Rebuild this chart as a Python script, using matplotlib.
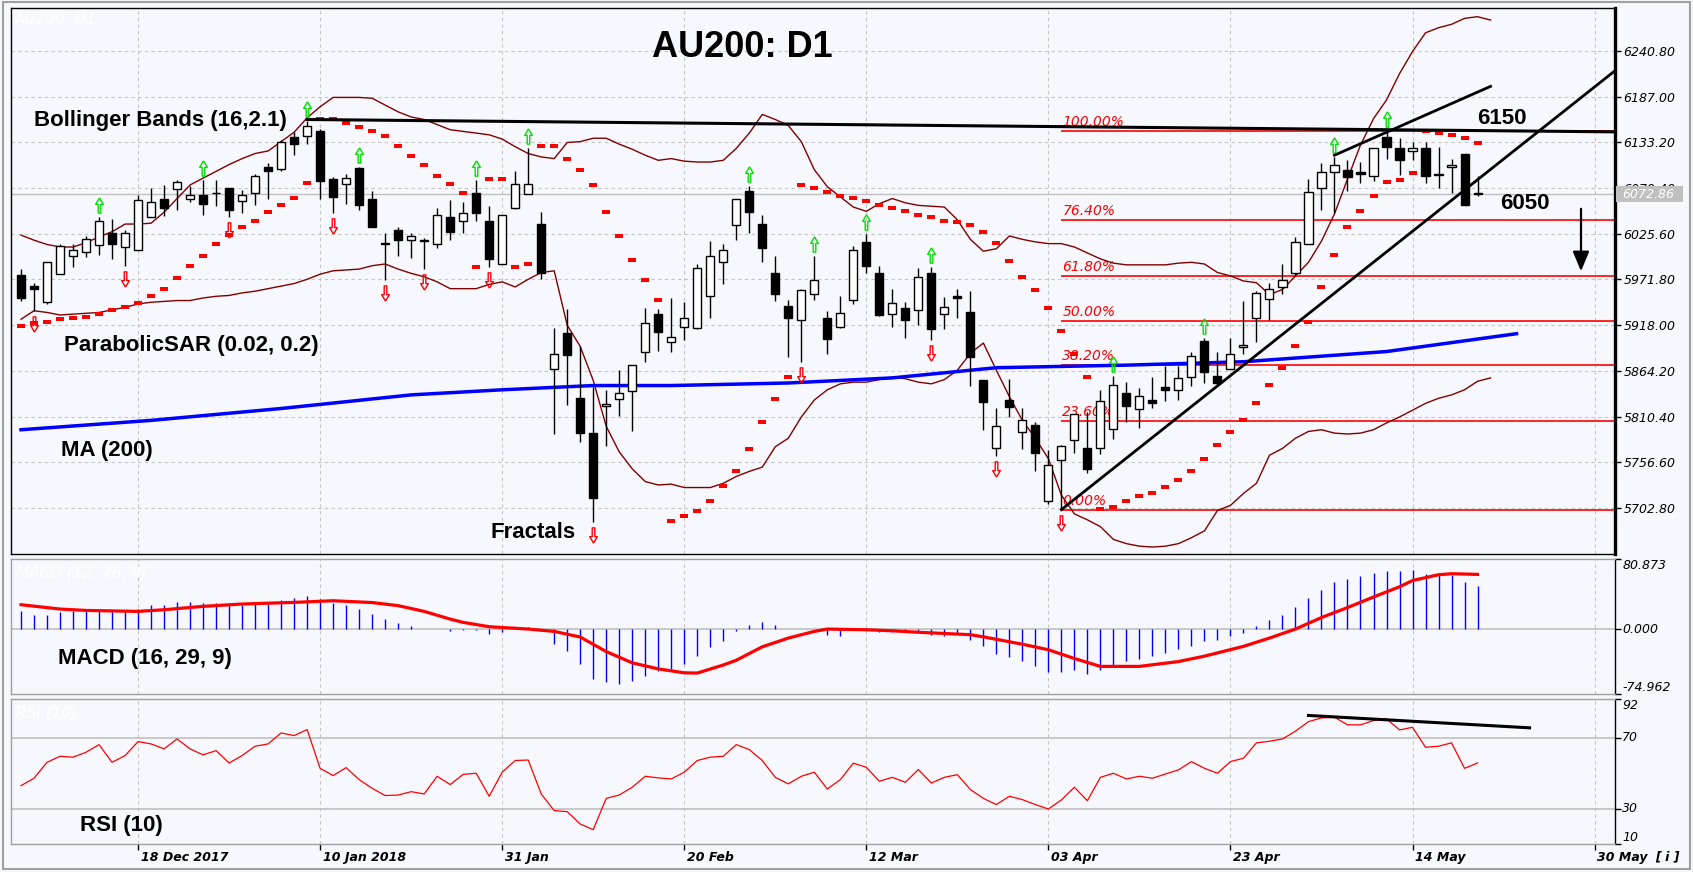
import matplotlib
matplotlib.use("Agg")
import matplotlib.pyplot as plt
import numpy as np
from matplotlib.transforms import offset_copy
from matplotlib.patches import Rectangle, FancyArrowPatch

W, H = 1693, 872
BG = "#f7f8fd"

# ---- candles (AU200 daily) ----
opens = [5977, 5964, 5945, 5978, 5999, 6004, 6012, 6026, 6010, 6006,
         6045, 6067, 6078, 6067, 6071, 6073, 6079, 6064, 6073, 6104,
         6102, 6139, 6141, 6147, 6090, 6084, 6103, 6067, 6014, 6030,
         6018, 6017, 6014, 6045, 6041, 6073, 6041, 5990, 6056, 6072,
         6037, 5866, 5909, 5832, 5791, 5823, 5831, 5841, 5886, 5931,
         5898, 5916, 5915, 5952, 5992, 6036, 6076, 6037, 5979, 5941,
         5924, 5955, 5927, 5916, 5948, 6016, 5980, 5931, 5938, 5936,
         5980, 5931, 5952, 5933, 5853, 5773, 5830, 5792, 5800, 5711,
         5759, 5783, 5774, 5773, 5796, 5838, 5819, 5830, 5845, 5842,
         5857, 5899, 5858, 5867, 5892, 5927, 5949, 5963, 5979, 6014,
         6080, 6098, 6101, 6098, 6094, 6139, 6126, 6123, 6126, 6095,
         6104, 6120, 6073]
highs = [5984, 5968, 5992, 6014, 6013, 6023, 6045, 6043, 6030, 6071,
         6079, 6083, 6089, 6082, 6089, 6089, 6079, 6077, 6096, 6109,
         6136, 6145, 6158, 6149, 6092, 6096, 6104, 6076, 6026, 6034,
         6027, 6021, 6056, 6065, 6063, 6089, 6058, 6048, 6099, 6127,
         6051, 5915, 5937, 5894, 5845, 5842, 5865, 5871, 5938, 5937,
         5950, 5945, 5990, 6017, 6014, 6067, 6082, 6048, 5999, 5948,
         5960, 5999, 5935, 5952, 6011, 6025, 5988, 5961, 5945, 5985,
         5987, 5951, 5961, 5958, 5854, 5821, 5855, 5821, 5804, 5771,
         5777, 5814, 5816, 5842, 5858, 5851, 5844, 5857, 5870, 5870,
         5886, 5903, 5887, 5903, 5947, 5958, 5968, 5990, 6022, 6090,
         6109, 6116, 6112, 6110, 6126, 6147, 6138, 6133, 6134, 6128,
         6114, 6120, 6093]
lows = [5947, 5935, 5943, 5978, 5986, 5998, 6001, 5996, 5988, 6006,
        6045, 6046, 6053, 6063, 6048, 6058, 6045, 6050, 6059, 6066,
        6100, 6118, 6131, 6066, 6050, 6061, 6053, 6033, 5971, 5999,
        5997, 5984, 6009, 6018, 6026, 6041, 5986, 5990, 6055, 6072,
        5972, 5790, 5824, 5780, 5687, 5776, 5811, 5794, 5875, 5888,
        5887, 5901, 5914, 5926, 5967, 6018, 6026, 5992, 5947, 5881,
        5875, 5948, 5884, 5915, 5943, 5980, 5929, 5916, 5903, 5918,
        5900, 5913, 5926, 5847, 5795, 5764, 5810, 5772, 5747, 5708,
        5700, 5768, 5744, 5767, 5784, 5804, 5797, 5820, 5829, 5830,
        5847, 5850, 5847, 5866, 5884, 5898, 5924, 5955, 5977, 6013,
        6054, 6050, 6076, 6085, 6088, 6113, 6095, 6112, 6085, 6080,
        6074, 6059, 6069.5]
closes = [5950, 5960, 5992, 6011, 6007, 6020, 6041, 6013, 6026, 6065,
          6063, 6056, 6086, 6071, 6061, 6073, 6054, 6071, 6093, 6100,
          6134, 6131, 6152, 6088, 6069, 6091, 6060, 6034, 6014, 6018,
          6023, 6017, 6048, 6028, 6050, 6050, 5996, 6048, 6084, 6084,
          5979, 5884, 5883, 5791, 5715, 5825, 5838, 5871, 5920, 5910,
          5904, 5927, 5985, 5999, 6007, 6066, 6051, 6009, 5955, 5927,
          5959, 5971, 5902, 5932, 6006, 5988, 5930, 5944, 5924, 5975,
          5914, 5939, 5950, 5881, 5828, 5799, 5822, 5806, 5768, 5754,
          5776, 5813, 5749, 5829, 5848, 5823, 5835, 5827, 5842, 5856,
          5882, 5863, 5850, 5884, 5895, 5956, 5961, 5971, 6016, 6075,
          6098, 6107, 6092, 6096, 6126, 6128, 6112, 6126, 6094, 6095,
          6107, 6060, 6072.86]

# parabolic SAR (0.02, 0.2)
sar = [5917, 5921, 5922, 5925, 5926, 5928, 5931, 5936, 5939, 5944,
       5952, 5961, 5974, 5988, 6000, 6013, 6024, 6033, 6041, 6051,
       6060, 6068, 6085, 6161, 6161, 6156, 6151, 6147, 6141, 6129,
       6117, 6107, 6094, 6084, 6074, 5986, 6090, 6090, 5987, 5990,
       6129, 6129, 6114, 6101, 6083, 6051, 6023, 5995, 5971, 5948,
       5688, 5694, 5699, 5711, 5729, 5746, 5772, 5804, 5831, 5857,
       6083, 6079, 6075, 6070, 6068, 6064, 6059, 6056, 6052, 6048,
       6045, 6041, 6039, 6036, 6028, 6015, 5994, 5975, 5959, 5938,
       5911, 5884, 5857, 5702, 5704, 5711, 5717, 5721, 5728, 5736,
       5746, 5760, 5777, 5792, 5806, 5827, 5848, 5868, 5894, 5922,
       5963, 6001, 6033, 6052, 6070, 6086, 6089, 6097, 6146, 6144,
       6142, 6138, 6132]

# Bollinger bands (16, 2.1)
bb_upper = [6024, 6018, 6013, 6010, 6010, 6015, 6022, 6028, 6037, 6037,
            6038, 6051, 6067, 6083, 6091, 6099, 6107, 6114, 6120, 6123,
            6134, 6145, 6162, 6175, 6186, 6186, 6186, 6185, 6177, 6169,
            6163, 6160, 6154, 6148, 6146, 6144, 6142, 6137, 6128, 6120,
            6116, 6114, 6133, 6134, 6138, 6138, 6131, 6125, 6118, 6112,
            6114, 6111, 6110, 6110, 6112, 6126, 6144, 6166, 6160, 6153,
            6134, 6101, 6081, 6069, 6057, 6052, 6061, 6067, 6062, 6059,
            6058, 6057, 6042, 6019, 6005, 6008, 6023, 6019, 6016, 6014,
            6014, 6010, 6003, 5996, 5991, 5989, 5989, 5989, 5989, 5991,
            5992, 5990, 5980, 5976, 5970, 5968, 5954, 5960, 5976, 5992,
            6017, 6049, 6090, 6130, 6161, 6183, 6214, 6240, 6262, 6268,
            6272, 6279, 6281, 6277]
bb_lower = [5925, 5935, 5933, 5930, 5931, 5932, 5933, 5936, 5939, 5943,
            5945, 5946, 5947, 5947, 5950, 5952, 5953, 5956, 5958, 5961,
            5964, 5967, 5972, 5978, 5982, 5983, 5984, 5988, 5990, 5984,
            5979, 5975, 5969, 5961, 5961, 5961, 5966, 5969, 5963, 5972,
            5980, 5982, 5918, 5893, 5853, 5799, 5769, 5749, 5734, 5730,
            5731, 5727, 5727, 5727, 5732, 5740, 5746, 5751, 5775, 5785,
            5810, 5830, 5842, 5849, 5851, 5851, 5854, 5857, 5855, 5851,
            5849, 5854, 5865, 5885, 5897, 5865, 5834, 5806, 5785, 5761,
            5718, 5696, 5689, 5681, 5666, 5661, 5658, 5657, 5658, 5661,
            5668, 5676, 5700, 5706, 5720, 5732, 5765, 5773, 5785, 5793,
            5795, 5791, 5790, 5791, 5795, 5803, 5810, 5818, 5826, 5832,
            5836, 5842, 5852, 5856]

# MA (200), read at a few bars
ma_idx = [0, 10, 20, 30, 37, 44, 50, 59, 67, 75, 85, 94, 105, 115]
ma_val = [5795, 5806, 5820, 5836, 5842, 5847, 5847, 5850, 5856, 5868, 5871, 5875, 5887, 5908]

# fractals (bar numbers)
fractal_up = [6, 14, 22, 26, 35, 39, 56, 61, 65, 70, 84, 91, 101, 105]
fractal_down = [1, 8, 16, 24, 28, 31, 36, 44, 60, 70, 75, 80]

# fibonacci retracement
fib_start = 80
fib_low, fib_high = 5700.4, 6146.6
fib_ratios = [0.0, 0.236, 0.382, 0.5, 0.618, 0.764, 1.0]
fib_labels = ["0.00%", "23.60%", "38.20%", "50.00%", "61.80%", "76.40%", "100.00%"]

# hand drawn lines
resist_x, resist_y = [22, 123], [6160, 6145.4]
support_x, support_y = [80, 123], [5701, 6222.6]
top_x, top_y = [101, 113], [6118, 6199]
rsi_line_x, rsi_line_y = [99, 116], [82.7, 75.7]

# MACD (16, 29, 9)
macd_hist = [20.4, 16.5, 16.5, 19.2, 20.4, 21.5, 22.3, 22.3, 22.3, 23.1,
             28.1, 28.1, 30.8, 31.5, 30.0, 30.0, 27.7, 27.7, 30.0, 30.0,
             33.9, 35.8, 38.5, 34.6, 30.0, 28.1, 23.1, 17.7, 11.5, 6.9,
             3.8, 0.3, 0.2, -2.7, -1.5, -1.5, -5.4, -3.8, 0.0, 2.3,
             -2.7, -16.9, -25.8, -40.0, -57.3, -61.6, -63.1, -60.4, -53.9, -48.9,
             -46.2, -40.0, -30.8, -21.2, -14.2, -2.7, 5.0, 7.7, 5.0, 0.5,
             0.3, -0.5, -6.5, -7.7, -1.5, -0.8, -3.5, -3.8, -2.7, -2.7,
             -6.5, -8.5, -5.4, -12.3, -20.0, -28.5, -32.7, -37.3, -43.1, -49.6,
             -49.6, -46.9, -51.5, -46.9, -41.2, -37.3, -34.2, -31.5, -27.7, -23.1,
             -19.2, -14.2, -12.3, -8.5, -4.6, 3.8, 10.8, 16.5, 25.0, 35.8,
             45.4, 53.9, 57.7, 61.6, 64.6, 67.3, 67.3, 68.5, 63.9, 63.9,
             62.7, 53.9, 50.0]
signal_idx = [0, 3, 5, 9, 11, 14, 17, 21, 24, 27, 29, 31, 33, 34, 36, 39, 41, 43, 45,
              47, 49, 51, 52, 54, 55, 57, 59, 61, 62, 65, 67, 69, 73, 74, 77, 79, 81,
              83, 86, 89, 91, 94, 96, 98, 100, 102, 104, 106, 107, 109, 110, 112]
signal_val = [28.1, 23.1, 21.5, 20.4, 22.3, 26.2, 28.9, 30.8, 32.7, 30.6, 27.0, 20.4,
              11.5, 7.7, 2.7, 0.0, -2.7, -9.2, -26.0, -39.0, -46.0, -50.5, -50.8, -41.5,
              -36.0, -20.5, -10.4, -2.7, 0.0, -0.8, -2.0, -3.7, -6.5, -9.0, -17.5, -23.9,
              -34.0, -43.1, -43.1, -37.5, -31.3, -20.0, -10.4, 0.0, 13.3, 24.8, 37.0,
              48.8, 56.0, 62.7, 63.9, 63.1]

# RSI (10)
rsi = [43.0, 47.2, 56.2, 59.6, 59.1, 61.9, 66.2, 56.2, 60.0, 67.9,
       66.6, 63.8, 69.4, 63.8, 60.4, 62.8, 55.8, 60.0, 65.3, 66.6,
       72.8, 71.3, 74.7, 52.8, 48.7, 53.2, 46.4, 41.5, 37.4, 37.7,
       39.6, 38.3, 48.3, 43.6, 49.4, 50.0, 37.0, 50.6, 57.2, 57.5,
       38.3, 28.9, 28.3, 21.3, 18.1, 35.8, 37.7, 42.1, 48.3, 47.4,
       46.8, 50.6, 57.2, 59.1, 59.6, 66.2, 63.4, 57.2, 47.7, 44.0,
       48.3, 50.6, 41.1, 46.4, 55.7, 53.4, 45.5, 47.7, 44.9, 52.1,
       44.5, 47.7, 49.2, 40.8, 35.8, 32.3, 37.0, 35.1, 32.3, 29.8,
       34.9, 42.1, 34.5, 47.7, 50.0, 46.8, 48.3, 47.2, 49.6, 51.9,
       56.6, 52.8, 50.0, 56.6, 58.5, 67.2, 68.1, 69.4, 73.8, 79.2,
       81.3, 81.7, 77.4, 77.4, 79.8, 80.8, 74.5, 76.0, 64.7, 65.3,
       67.2, 52.8, 55.8]

price_ticks = [6240.80, 6187.00, 6133.20, 6079.40, 6025.60, 5971.80,
               5918.00, 5864.20, 5810.40, 5756.60, 5702.80]
date_idx = [9, 23, 37, 51, 65, 79, 93, 107, 121]
date_labels = ["18 Dec 2017", "10 Jan 2018", "31 Jan", "20 Feb", "12 Mar",
               "03 Apr", "23 Apr", "14 May", "30 May"]


def fx(px):
    return px / W


def fy(py):
    return 1 - py / H


fig = plt.figure(figsize=(W / 100, H / 100), dpi=100)
fig.patch.set_facecolor(BG)

left, right = 11, 1615
ax = fig.add_axes([fx(left), fy(554), (right - left) / W, (554 - 8) / H])
ax_m = fig.add_axes([fx(left), fy(694), (right - left) / W, (694 - 559) / H])
ax_r = fig.add_axes([fx(left), fy(844), (right - left) / W, (844 - 699) / H])

xlim = (-0.77, 122.57)
grid_kw = dict(color="#c4c4c4", lw=0.8, ls=(0, (3, 3)))

for a in (ax, ax_m, ax_r):
    a.set_facecolor(BG)
    a.set_xlim(*xlim)
    a.set_xticks(date_idx)
    a.set_axisbelow(True)
    a.grid(True, axis="x", **grid_kw)
    a.tick_params(axis="x", labelbottom=False, length=0)
    a.yaxis.tick_right()

# ---- main price panel ----
idx = np.arange(len(opens))
o, h, l, c = (np.array(v, dtype=float) for v in (opens, highs, lows, closes))
ax.set_ylim(5648.8, 6291.2)
ax.set_yticks(price_ticks)
ax.set_yticklabels(["%.2f" % p for p in price_ticks])
ax.grid(True, axis="y", **grid_kw)
ax.tick_params(axis="y", direction="out", length=4, width=1, pad=2, labelsize=9)
for t in ax.get_yticklabels():
    t.set_fontstyle("italic")
for s in ax.spines.values():
    s.set_color("black")
    s.set_linewidth(1)
ax.spines["right"].set_linewidth(2.4)

ax.axhline(closes[-1], color="#c0c0c0", lw=1, zorder=1)

# fibonacci
fib_tr = offset_copy(ax.transData, fig=fig, x=1, y=5, units="dots")
for r, lab in zip(fib_ratios, fib_labels):
    lvl = fib_low + r * (fib_high - fib_low)
    ax.hlines(lvl, fib_start, xlim[1], color="red", lw=1.2, zorder=2)
    ax.text(fib_start, lvl, lab, transform=fib_tr, color="red", fontsize=10,
            fontstyle="italic", va="baseline", ha="left", zorder=2)

# bollinger, MA
bb_idx = np.arange(len(bb_upper))
ax.plot(bb_idx, bb_upper, color="#800000", lw=1, zorder=2)
ax.plot(bb_idx, bb_lower, color="#800000", lw=1, zorder=2)
ax.plot(ma_idx, ma_val, color="#0000ff", lw=2.5, zorder=3)

# candles
up = c >= o
body_lo = np.minimum(o, c)
body_h = np.maximum(np.abs(c - o), 0.9)
ax.vlines(idx, l, h, color="black", lw=1, zorder=4)
ax.bar(idx[up], body_h[up], bottom=body_lo[up], width=0.62, facecolor="white",
       edgecolor="black", lw=1, zorder=5)
ax.bar(idx[~up], body_h[~up], bottom=body_lo[~up], width=0.62, facecolor="black",
       edgecolor="black", lw=1, zorder=5)

# parabolic SAR
sar_marker = [(-1, -0.38), (1, -0.38), (1, 0.38), (-1, 0.38), (-1, -0.38)]
ax.plot(idx, sar, ls="none", marker=sar_marker, ms=6, color="red", mew=0, zorder=6)

# fractals
arrow_up = [(0, 1), (0.5, 0.15), (0.17, 0.15), (0.17, -1), (-0.17, -1),
            (-0.17, 0.15), (-0.5, 0.15), (0, 1)]
arrow_dn = [(x, -y) for x, y in arrow_up]
up_tr = offset_copy(ax.transData, fig=fig, y=12, units="dots")
dn_tr = offset_copy(ax.transData, fig=fig, y=-13, units="dots")
ax.plot(fractal_up, h[fractal_up], ls="none", marker=arrow_up, ms=11, mfc="none",
        mec="#00e000", mew=1, transform=up_tr, zorder=6)
ax.plot(fractal_down, l[fractal_down], ls="none", marker=arrow_dn, ms=11, mfc="none",
        mec="red", mew=1, transform=dn_tr, zorder=6)

# trend lines
ax.plot(resist_x, resist_y, color="black", lw=2.2, zorder=6)
ax.plot(support_x, support_y, color="black", lw=2, zorder=6)
ax.plot(top_x, top_y, color="black", lw=2, zorder=6)

# ---- MACD panel ----
ax_m.set_ylim(-74.962, 80.873)
ax_m.axhline(0, color="#c0c0c0", lw=1.2, zorder=1)
ax_m.vlines(idx, 0, macd_hist, color="#0000ff", lw=1, zorder=2)
ax_m.plot(signal_idx, signal_val, color="red", lw=2.3, zorder=3)
ax_m.set_yticks([80.873, 0, -74.962])
ax_m.set_yticklabels([])
ax_m.tick_params(axis="y", direction="out", length=4, width=1)
ytr = ax_m.get_yaxis_transform()
for v, s, va in [(80.873, "80.873", "top"), (0, "0.000", "center"), (-74.962, "-74.962", "bottom")]:
    ax_m.text(1.0045, v, s, transform=ytr, fontsize=9, fontstyle="italic", va=va, ha="left")

# ---- RSI panel ----
ax_r.set_ylim(10, 92)
for lv in (70, 30):
    ax_r.axhline(lv, color="#c0c0c0", lw=1.2, zorder=1)
ax_r.plot(idx, rsi, color="red", lw=0.9, zorder=3)
ax_r.plot(rsi_line_x, rsi_line_y, color="black", lw=2.2, zorder=4)
ax_r.set_yticks([92, 70, 30, 10])
ax_r.set_yticklabels([])
ax_r.tick_params(axis="y", direction="out", length=4, width=1)
ytr = ax_r.get_yaxis_transform()
for v, s, va in [(92, "92", "top"), (70, "70", "center"), (30, "30", "center"), (10, "10", "bottom")]:
    ax_r.text(1.0045, v, s, transform=ytr, fontsize=9, fontstyle="italic", va=va, ha="left")

ax_r.tick_params(axis="x", length=4, width=1, direction="out", color="black")
xtr = ax_r.get_xaxis_transform()
for i, s in zip(date_idx, date_labels):
    ax_r.text(i + 0.2, -0.09, s, transform=xtr, fontsize=9, fontstyle="italic",
              fontweight="bold", va="center", ha="left")

for a in (ax_m, ax_r):
    for s in a.spines.values():
        s.set_color("#a0a0a0")
        s.set_linewidth(1)
    a.spines["right"].set_color("black")

# ---- texts ----
lab_kw = dict(fontfamily="Liberation Sans", fontweight="bold", fontsize=16,
              color="black", va="baseline", ha="left")
fig.text(fx(742), fy(57), "AU200: D1", fontfamily="Liberation Sans", fontweight="bold",
         fontsize=26, ha="center", va="baseline")
fig.text(fx(34), fy(126), "Bollinger Bands (16,2.1)", **lab_kw)
fig.text(fx(64), fy(351), "ParabolicSAR (0.02, 0.2)", **lab_kw)
fig.text(fx(61), fy(456), "MA (200)", **lab_kw)
fig.text(fx(491), fy(538), "Fractals", **lab_kw)
fig.text(fx(58), fy(664), "MACD (16, 29, 9)", **lab_kw)
fig.text(fx(80), fy(831), "RSI (10)", **lab_kw)
fig.text(fx(1477), fy(124), "6150", **lab_kw)
fig.text(fx(1500), fy(209), "6050", **lab_kw)

faint = dict(color="white", fontsize=11, fontstyle="italic", va="center", ha="left")
fig.text(fx(15), fy(20), "AU200, D1", **faint)
fig.text(fx(16), fy(573), "MACD (12, 26, 9)", **faint)
fig.text(fx(16), fy(713), "RSI (10)", **faint)

fig.text(fx(1655), fy(857), "[ i ]", fontsize=9, fontstyle="italic", fontweight="bold",
         va="center", ha="left")

# current price box
fig.add_artist(Rectangle((fx(1616), fy(202)), 67 / W, 16 / H, transform=fig.transFigure,
                         facecolor="#c0c0c0", edgecolor="none", zorder=5))
fig.text(fx(1622), fy(194), "%.2f" % closes[-1], color="white", fontsize=9,
         fontstyle="italic", va="center", ha="left", zorder=6)

# down arrow
fig.add_artist(FancyArrowPatch((fx(1581), fy(206)), (fx(1581), fy(274)),
                               transform=fig.transFigure,
                               arrowstyle="-|>,head_length=1.2,head_width=0.5",
                               mutation_scale=10, color="black", lw=1.6, zorder=6))

# outer frame
fig.add_artist(Rectangle((fx(3), fy(869)), 1687 / W, 867 / H, transform=fig.transFigure,
                         facecolor="none", edgecolor="#a0a0a0", lw=1.5, zorder=7))

fig.savefig("out.png", dpi=100, facecolor=BG)
